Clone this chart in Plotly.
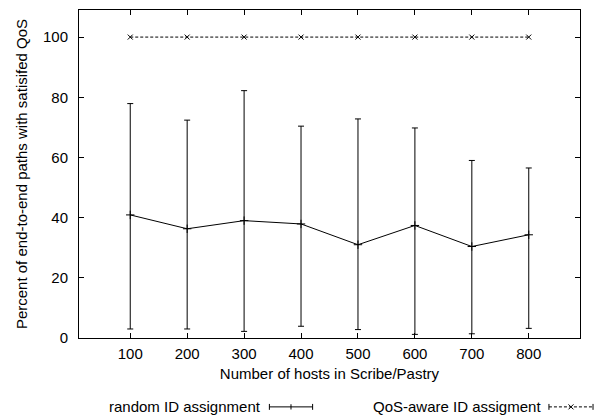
import plotly.graph_objects as go

hosts = [100, 200, 300, 400, 500, 600, 700, 800]
random_mean = [40.9, 36.3, 39.0, 37.9, 31.0, 37.4, 30.4, 34.3]
random_max = [77.9, 72.4, 82.2, 70.4, 72.8, 69.8, 59.0, 56.5]
random_min = [3.0, 3.0, 2.2, 3.9, 2.8, 1.2, 1.4, 3.2]
qos_values = [100, 100, 100, 100, 100, 100, 100, 100]

err_plus = [mx - m for mx, m in zip(random_max, random_mean)]
err_minus = [m - mn for mn, m in zip(random_min, random_mean)]

FONT = "Liberation Sans, Arial, Helvetica, sans-serif"
FS = 15

fig = go.Figure()
fig.add_trace(go.Scatter(
    x=hosts, y=random_mean, mode="lines+markers",
    name="random ID assignment",
    line=dict(color="black", width=1),
    marker=dict(symbol="cross-thin", size=6, line=dict(color="black", width=1)),
    error_y=dict(type="data", symmetric=False, array=err_plus, arrayminus=err_minus,
                 color="black", thickness=1, width=3),
    showlegend=False,
))
fig.add_trace(go.Scatter(
    x=hosts, y=qos_values, mode="lines+markers",
    name="QoS-aware ID assigment",
    line=dict(color="black", width=1, dash="3px,2px"),
    marker=dict(symbol="x-thin", size=5, line=dict(color="black", width=1)),
    showlegend=False,
))

# legend (text left of sample, as in gnuplot)
ly = -0.21
fig.add_annotation(xref="paper", yref="paper", x=0.368, y=ly, text="random ID assignment",
                   showarrow=False, xanchor="right", yanchor="middle",
                   font=dict(family=FONT, size=FS, color="black"))
fig.add_annotation(xref="paper", yref="paper", x=0.926, y=ly, text="QoS-aware ID assigment",
                   showarrow=False, xanchor="right", yanchor="middle",
                   font=dict(family=FONT, size=FS, color="black"))
x1a, x1b = 0.380, 0.4663
fig.add_shape(type="line", xref="paper", yref="paper", x0=x1a, x1=x1b, y0=ly, y1=ly,
              line=dict(color="black", width=1))
for xx in (x1a, x1b):
    fig.add_shape(type="line", xref="paper", yref="paper", x0=xx, x1=xx, y0=ly - 0.009, y1=ly + 0.009,
                  line=dict(color="black", width=1))
xm = (x1a + x1b) / 2
fig.add_shape(type="line", xref="paper", yref="paper", x0=xm, x1=xm, y0=ly - 0.008, y1=ly + 0.008,
              line=dict(color="black", width=1))
x2a, x2b = 0.938, 1.026
fig.add_shape(type="line", xref="paper", yref="paper", x0=x2a, x1=x2b, y0=ly, y1=ly,
              line=dict(color="black", width=1, dash="3px,2px"))
fig.add_shape(type="line", xref="paper", yref="paper", x0=x2a, x1=x2a, y0=ly - 0.009, y1=ly + 0.009,
              line=dict(color="black", width=1))
fig.add_shape(type="line", xref="paper", yref="paper", x0=x2b, x1=x2b, y0=ly - 0.009, y1=ly + 0.009,
              line=dict(color="black", width=1))
xc = (x2a + x2b) / 2
for a, b in ((-2.5, 2.5), (2.5, -2.5)):
    fig.add_shape(type="line", xref="paper", yref="paper",
                  xsizemode="pixel", ysizemode="pixel", xanchor=xc, yanchor=ly,
                  x0=-2.5, x1=2.5, y0=a, y1=b, line=dict(color="black", width=1))

fig.update_layout(
    width=608, height=415,
    margin=dict(l=79, r=28, t=10, b=77),
    paper_bgcolor="white", plot_bgcolor="white",
    font=dict(family=FONT, size=FS, color="black"),
    xaxis=dict(range=[10, 890], tickvals=hosts, ticks="inside", ticklen=5,
               showline=True, mirror="ticks", linecolor="black", linewidth=1,
               tickcolor="black", showgrid=False, zeroline=False,
               ticklabelstandoff=2,
               title=dict(text="Number of hosts in Scribe/Pastry", standoff=7,
                          font=dict(size=FS))),
    yaxis=dict(range=[0, 109], tickvals=[0, 20, 40, 60, 80, 100], ticks="inside", ticklen=5,
               showline=True, mirror="ticks", linecolor="black", linewidth=1,
               tickcolor="black", showgrid=False, zeroline=False,
               ticklabelstandoff=7,
               title=dict(text="Percent of end-to-end paths with satisifed QoS", standoff=11,
                          font=dict(size=FS))),
)

fig.write_html("out.html", post_script="document.body.style.margin='0';",
               config={"displayModeBar": False})
